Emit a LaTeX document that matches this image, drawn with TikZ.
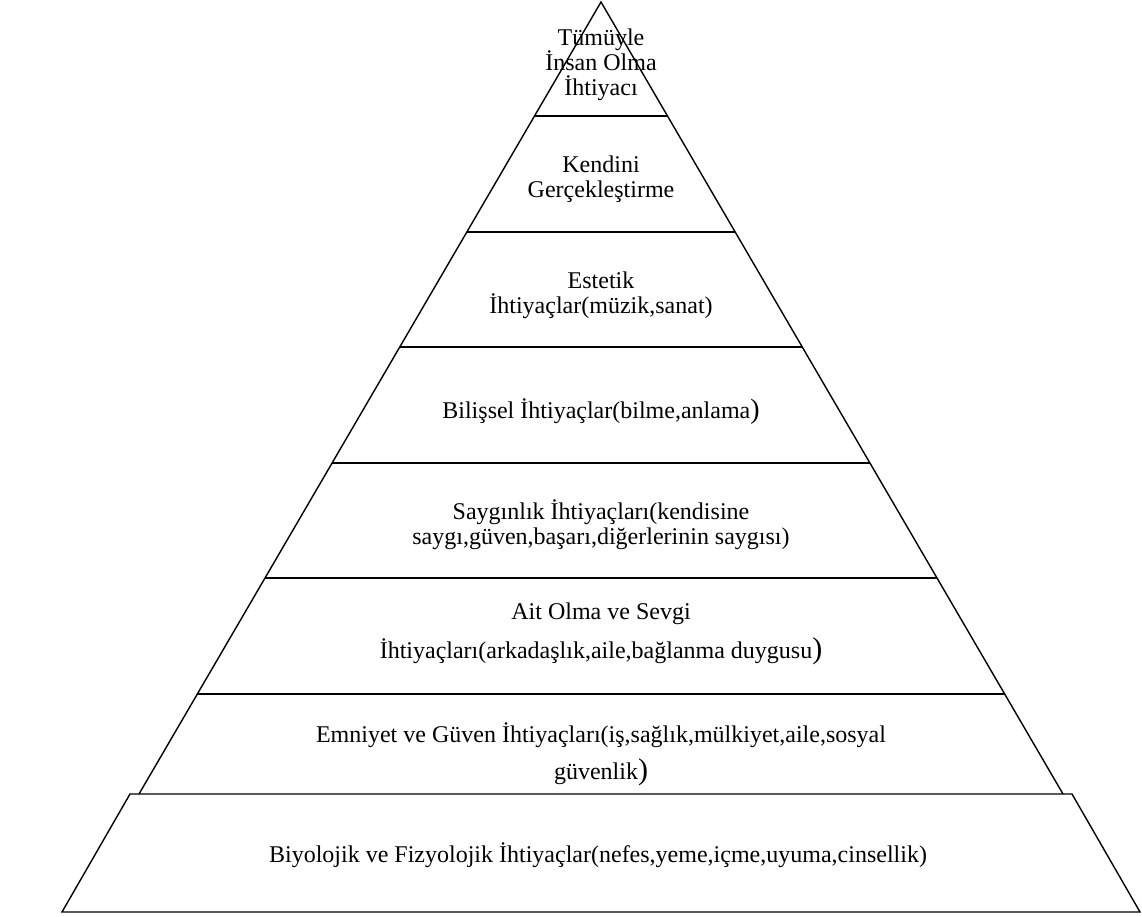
\documentclass[tikz,border=0pt]{standalone}
\usepackage{fontspec}
\setmainfont{Liberation Serif}
\begin{document}
\begin{tikzpicture}[x=1pt,y=-1pt]
      \tikzstyle{every node}=[align=center,inner sep=0pt,font=\fontsize{24}{25}\selectfont]
      \useasboundingbox (0,0) rectangle (1142,916);

      \draw[line width=1.4pt] (139,794) -- (601,2) -- (1063,794);
      \foreach \y in {116,232,347,463,578,694}
        \draw[line width=1.6pt] ({601-0.5833*(\y-2)},\y) -- ({601+0.5833*(\y-2)},\y);
      \draw[line width=1.4pt] (62,912) -- (130,794) -- (1072,794) -- (1140,912) -- cycle;

      \node (n1) at (601,65) {Tümüyle\\İnsan Olma\\İhtiyacı};
      \node (n2) at (601,179) {Kendini\\Gerçekleştirme};
      \node (n3) at (601,295) {Estetik\\İhtiyaçlar(müzik,sanat)};
      \node (n4) at (601,412) {Bilişsel İhtiyaçlar(bilme,anlama{\fontsize{28}{25}\selectfont)}};
      \node (n5) at (601,525) {Saygınlık İhtiyaçları(kendisine\\saygı,güven,başarı,diğerlerinin saygısı)};
      \node (n6) at (601,634) {Ait Olma ve Sevgi\\[12pt]İhtiyaçları(arkadaşlık,aile,bağlanma duygusu{\fontsize{30}{25}\selectfont)}};
      \node (n7) at (601,754) {Emniyet ve Güven İhtiyaçları(iş,sağlık,mülkiyet,aile,sosyal\\[10pt]güvenlik{\fontsize{30}{25}\selectfont)}};
      \node (n8) at (598,855) {Biyolojik ve Fizyolojik İhtiyaçlar(nefes,yeme,içme,uyuma,cinsellik)};
    \end{tikzpicture}
\end{document}
